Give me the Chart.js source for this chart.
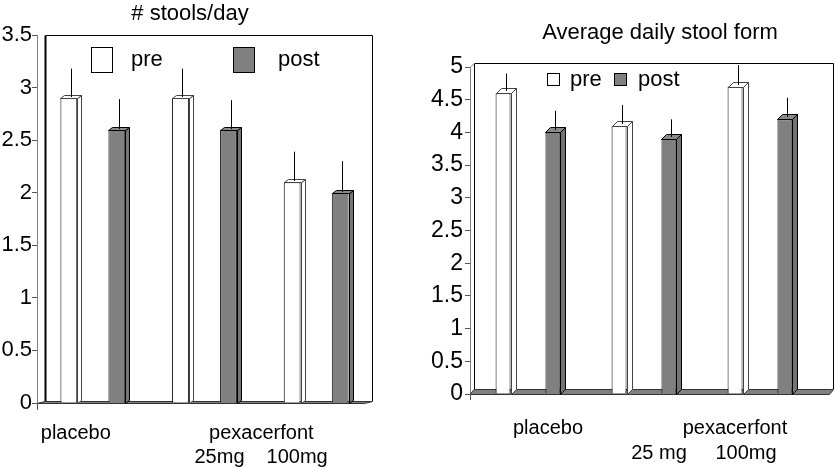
<!DOCTYPE html>
<html>
<head>
<meta charset="utf-8">
<script src="https://cdn.jsdelivr.net/npm/chart.js@4.4.1/dist/chart.umd.min.js"></script>
<style>
    html, body { margin: 0; padding: 0; background: #fff; overflow: hidden; }
    .panel { position: absolute; top: 0; height: 467px; }
    #boxStools { left: 0; width: 400px; }
    #boxForm { left: 420px; width: 415px; }
</style>
</head>
<body>
<div class="panel" id="boxStools"><canvas id="chartStools"></canvas></div>
<div class="panel" id="boxForm"><canvas id="chartForm"></canvas></div>

<script>
// --- DATOS ---
const seriesNames = ['pre', 'post'];
const drugName = 'pexacerfont';

// # stools/day
const stoolsTitle = '# stools/day';
const stoolsGroups = ['placebo', '25mg', '100mg'];
const stoolsPre = [2.9, 2.9, 2.1];
const stoolsPost = [2.6, 2.6, 2.0];
const stoolsPreErr = [0.28, 0.28, 0.29];
const stoolsPostErr = [0.29, 0.28, 0.30];
const stoolsTicks = [0, 0.5, 1, 1.5, 2, 2.5, 3, 3.5];

// Average daily stool form
const formTitle = 'Average daily stool form';
const formGroups = ['placebo', '25 mg', '100mg'];
const formPre = [4.6, 4.1, 4.7];
const formPost = [4.0, 3.9, 4.2];
const formPreErr = [0.30, 0.32, 0.33];
const formPostErr = [0.33, 0.30, 0.33];
const formTicks = [0, 0.5, 1, 1.5, 2, 2.5, 3, 3.5, 4, 4.5, 5];

const FONT = '"Liberation Sans", Arial, sans-serif';
const WHITE = '#ffffff';
const GRAY = '#808080';

// --- PLUGIN: efecto 3D, barras de error, leyenda y textos ---
const estilo3D = {
    id: 'estilo3D',
    beforeDatasetsDraw(chart, args, o) {
        const ctx = chart.ctx;
        const a = chart.chartArea;
        const right = a.right + o.extraRight;
        ctx.save();
        // piso
        ctx.beginPath();
        ctx.moveTo(a.left, a.bottom + 0.5);
        ctx.lineTo(a.left + o.wallDx, a.bottom - o.floorDy + 0.5);
        ctx.lineTo(right + 0.5, a.bottom - o.floorDy + 0.5);
        ctx.lineTo(right - o.wallDx + 0.5, a.bottom + 0.5);
        ctx.closePath();
        ctx.fillStyle = GRAY;
        ctx.fill();
        ctx.strokeStyle = '#333';
        ctx.lineWidth = 1;
        ctx.stroke();
        // pared del fondo
        const wx = a.left + o.wallDx + 0.5;
        const wt = a.top - o.wallLift + 0.5;
        ctx.strokeStyle = '#000';
        ctx.lineWidth = 1;
        ctx.beginPath();
        ctx.moveTo(wx, wt);
        ctx.lineTo(right + 0.5, wt);
        ctx.lineTo(right + 0.5, a.bottom - o.floorDy);
        ctx.stroke();
        ctx.lineWidth = o.wallWidth;
        ctx.beginPath();
        ctx.moveTo(wx, a.bottom - o.floorDy);
        ctx.lineTo(wx, wt);
        ctx.stroke();
        if (o.wallLift > 0) {
            ctx.lineWidth = 1;
            ctx.strokeStyle = GRAY;
            ctx.beginPath();
            ctx.moveTo(a.left + 0.5, a.top);
            ctx.lineTo(wx, wt);
            ctx.stroke();
        }
        ctx.restore();
    },
    afterDatasetsDraw(chart, args, o) {
        const ctx = chart.ctx;
        const a = chart.chartArea;
        const yScale = chart.scales.y;
        const xScale = chart.scales.x;
        ctx.save();

        // caras laterales y superiores de cada barra
        chart.data.datasets.forEach((ds, di) => {
            const meta = chart.getDatasetMeta(di);
            meta.data.forEach((bar, i) => {
                const { x, y, base, width } = bar.getProps(['x', 'y', 'base', 'width'], true);
                const l = Math.round(x - width / 2) + 0.5;
                const r = Math.round(x + width / 2) + 0.5;
                const top = Math.round(y) + 0.5;
                const bot = Math.round(base) + 0.5;
                ctx.lineWidth = 1;
                ctx.strokeStyle = ds.faceStroke;
                // lateral
                ctx.beginPath();
                ctx.moveTo(r, top);
                ctx.lineTo(r + o.barDx, top - o.barDy);
                ctx.lineTo(r + o.barDx, bot - o.barDy);
                ctx.lineTo(r, bot);
                ctx.closePath();
                ctx.fillStyle = ds.sideColor;
                ctx.fill();
                ctx.stroke();
                // superior
                ctx.beginPath();
                ctx.moveTo(l, top);
                ctx.lineTo(l + o.barDx, top - o.barDy);
                ctx.lineTo(r + o.barDx, top - o.barDy);
                ctx.lineTo(r, top);
                ctx.closePath();
                ctx.fillStyle = ds.topColor;
                ctx.fill();
                ctx.stroke();
                // barra de error (solo hacia arriba)
                const v = ds.data[i];
                const yErr = yScale.getPixelForValue(v + ds.errores[i]);
                const ex = Math.round(x + o.barDx / 2) + 0.5;
                ctx.strokeStyle = '#000';
                ctx.beginPath();
                ctx.moveTo(ex, top - o.barDy / 2);
                ctx.lineTo(ex, yErr);
                ctx.stroke();
            });
        });

        // marca del eje x
        ctx.strokeStyle = '#555';
        ctx.beginPath();
        ctx.moveTo(a.left + 0.5, a.bottom);
        ctx.lineTo(a.left + 0.5, a.bottom + o.xTick);
        ctx.stroke();

        // leyenda
        ctx.font = o.legendFont + 'px ' + FONT;
        ctx.textBaseline = 'middle';
        ctx.textAlign = 'left';
        chart.data.datasets.forEach((ds, di) => {
            const it = o.legendItems[di];
            ctx.fillStyle = ds.backgroundColor;
            ctx.fillRect(it.bx, o.legendY, o.legendBox[0], o.legendBox[1]);
            ctx.strokeStyle = '#000';
            ctx.strokeRect(it.bx + 0.5, o.legendY + 0.5, o.legendBox[0] - 1, o.legendBox[1] - 1);
            ctx.fillStyle = '#000';
            ctx.fillText(ds.label, it.tx, o.legendY + o.legendBox[1] / 2);
        });

        // etiquetas de grupos
        ctx.font = o.labelFont + 'px ' + FONT;
        ctx.textAlign = 'center';
        chart.data.labels.forEach((lab, i) => {
            const px = xScale.getPixelForValue(i) + o.labelShift[i];
            ctx.fillText(lab, px, i === 0 ? o.labelY1 : o.labelY2);
        });
        const mid = (xScale.getPixelForValue(1) + xScale.getPixelForValue(2)) / 2;
        ctx.fillText(drugName, mid + o.drugShift, o.labelY1);

        // título
        ctx.font = o.titleFont + 'px ' + FONT;
        ctx.fillText(o.title, o.titleX, o.titleY);
        ctx.restore();
    }
};

function crearGrafico(canvasId, cfg) {
    return new Chart(document.getElementById(canvasId), {
        type: 'bar',
        data: {
            labels: cfg.groups,
            datasets: [
                {
                    label: seriesNames[0],
                    data: cfg.pre,
                    errores: cfg.preErr,
                    backgroundColor: WHITE,
                    borderColor: '#000',
                    borderWidth: 1,
                    sideColor: WHITE,
                    topColor: WHITE,
                    faceStroke: '#444'
                },
                {
                    label: seriesNames[1],
                    data: cfg.post,
                    errores: cfg.postErr,
                    backgroundColor: GRAY,
                    borderColor: '#000',
                    borderWidth: 1,
                    sideColor: '#747474',
                    topColor: '#8a8a8a',
                    faceStroke: '#000'
                }
            ]
        },
        options: {
            responsive: true,
            maintainAspectRatio: false,
            animation: false,
            events: [],
            layout: { padding: cfg.padding },
            datasets: {
                bar: {
                    categoryPercentage: cfg.catPct,
                    barPercentage: cfg.barPct
                }
            },
            scales: {
                x: { display: false, offset: true },
                y: {
                    min: 0,
                    max: cfg.ticks[cfg.ticks.length - 1],
                    afterBuildTicks: (s) => { s.ticks = cfg.ticks.map(v => ({ value: v })); },
                    afterFit: (s) => { s.width = cfg.yWidth; },
                    grid: {
                        drawOnChartArea: false,
                        drawTicks: true,
                        tickLength: 5,
                        color: '#555'
                    },
                    border: { display: true, color: GRAY, width: 1 },
                    ticks: {
                        padding: cfg.tickPad,
                        color: '#000',
                        font: { family: FONT, size: cfg.tickFont },
                        callback: (v) => String(v)
                    }
                }
            },
            plugins: {
                legend: { display: false },
                tooltip: { enabled: false },
                title: { display: false },
                estilo3D: cfg.deco
            }
        },
        plugins: [estilo3D]
    });
}

document.addEventListener('DOMContentLoaded', () => {
    crearGrafico('chartStools', {
        groups: stoolsGroups,
        pre: stoolsPre,
        post: stoolsPost,
        preErr: stoolsPreErr,
        postErr: stoolsPostErr,
        ticks: stoolsTicks,
        padding: { left: 0, right: 28, top: 35, bottom: 64 },
        yWidth: 37,
        tickPad: 0,
        tickFont: 22,
        catPct: 0.86,
        barPct: 0.35,
        deco: {
            extraRight: 0, wallDx: 8, wallLift: 0, floorDy: 2, wallWidth: 2,
            barDx: 4, barDy: 3, xTick: 7,
            legendFont: 22, legendY: 47, legendBox: [22, 26],
            legendItems: [{ bx: 91, tx: 131 }, { bx: 233, tx: 278 }],
            labelFont: 20, labelY1: 433, labelY2: 457,
            labelShift: [-17, 15, -19], drugShift: 1,
            title: stoolsTitle, titleFont: 22, titleX: 190, titleY: 14
        }
    });

    crearGrafico('chartForm', {
        groups: formGroups,
        pre: formPre,
        post: formPost,
        preErr: formPreErr,
        postErr: formPostErr,
        ticks: formTicks,
        padding: { left: 0, right: 17, top: 67, bottom: 73 },
        yWidth: 50,
        tickPad: 2,
        tickFont: 23,
        catPct: 0.86,
        barPct: 0.3,
        deco: {
            extraRight: 15, wallDx: 4, wallLift: 4, floorDy: 5, wallWidth: 1,
            barDx: 5, barDy: 5, xTick: 6,
            legendFont: 22, legendY: 73, legendBox: [13, 13],
            legendItems: [{ bx: 127, tx: 150 }, { bx: 194, tx: 218 }],
            labelFont: 20, labelY1: 428, labelY2: 453,
            labelShift: [20, 15, -14], drugShift: 33,
            title: formTitle, titleFont: 22, titleX: 240, titleY: 33
        }
    });
});
</script>
</body>
</html>
